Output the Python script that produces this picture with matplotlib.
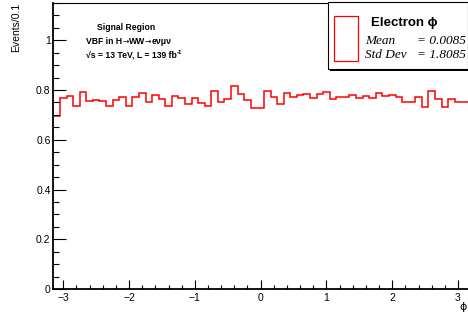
import numpy as np
import matplotlib
matplotlib.use("Agg")
import matplotlib.pyplot as plt
from matplotlib.patches import Rectangle
from matplotlib.ticker import MultipleLocator

# electron phi, 63 bins of 0.1 from -3.15 to 3.15
bin_edges = np.linspace(-3.15, 3.15, 64)
events = [0.695, 0.766, 0.777, 0.734, 0.793, 0.754, 0.758, 0.757, 0.737, 0.761,
          0.774, 0.737, 0.771, 0.788, 0.753, 0.780, 0.763, 0.737, 0.777, 0.766,
          0.745, 0.766, 0.747, 0.737, 0.798, 0.750, 0.763, 0.817, 0.785, 0.758,
          0.726, 0.726, 0.796, 0.771, 0.742, 0.788, 0.774, 0.780, 0.785, 0.768,
          0.785, 0.793, 0.763, 0.774, 0.772, 0.782, 0.769, 0.777, 0.766, 0.788,
          0.777, 0.782, 0.774, 0.750, 0.753, 0.774, 0.733, 0.796, 0.762, 0.730,
          0.763, 0.750, 0.750]

stat_names = ["Mean", "Std Dev"]
stat_values = ["= 0.0085", "= 1.8085"]

W, H = 468, 322
sans = ["Liberation Sans", "DejaVu Sans"]
serif = ["Liberation Serif", "DejaVu Serif"]
plt.rcParams["font.family"] = sans

fig = plt.figure(figsize=(W / 100, H / 100), dpi=100)
ax = fig.add_axes([53.4 / W, 33 / H, 414.5 / W, 286 / H])

ax.stairs(events, bin_edges, color="red", lw=1.1, baseline=None)

ax.set_xlim(-3.15, 3.15)
ax.set_ylim(0, 1.15)
ax.xaxis.set_major_locator(MultipleLocator(1))
ax.xaxis.set_minor_locator(MultipleLocator(0.2))
ax.yaxis.set_major_locator(MultipleLocator(0.2))
ax.yaxis.set_minor_locator(MultipleLocator(0.05))
ax.yaxis.set_major_formatter(plt.FuncFormatter(lambda v, p: "0" if v == 0 else f"{v:g}"))
ax.tick_params(axis="both", which="both", direction="in", labelsize=7.5, width=0.8)
ax.tick_params(axis="y", which="major", length=9)
ax.tick_params(axis="y", which="minor", length=4.5)
ax.tick_params(axis="x", which="major", length=6.5, pad=3)
ax.tick_params(axis="x", which="minor", length=3.2)
ax.tick_params(axis="y", pad=2)
for s in ["left", "bottom"]:
    ax.spines[s].set_linewidth(1.3)
ax.spines["top"].set_linewidth(0.8)
ax.spines["right"].set_visible(False)

def px(x, y):
    return x / W, 1 - y / H

fig.text(*px(16, 3), "Events/0.1", rotation=90, ha="center", va="top", fontsize=7.5)
fig.text(*px(463, 307), "ϕ", ha="center", va="center", fontsize=8, family=["DejaVu Sans"])

fig.text(*px(126, 27), "Signal Region", ha="center", va="center", fontsize=6.2, weight="bold")

# process line, arrows drawn in DejaVu so they read as arrows
parts = ["VBF in H", "→", "WW", "→", "eνμν"]
prev = fig.text(*px(86, 41.5), parts[0], ha="left", va="center", fontsize=6.2, weight="bold")
for p in parts[1:]:
    arrow = p == "→"
    prev = ax.annotate(p, xy=(1, 0.5), xycoords=prev, ha="left", va="center",
                       fontsize=5.5 if arrow else 6.2,
                       weight="normal" if arrow else "bold",
                       family=["DejaVu Sans"] if arrow else sans)

t = fig.text(*px(86, 55), "√s = 13 TeV, L = 139 fb", ha="left", va="center", fontsize=6.2, weight="bold")
ax.annotate("-1", xy=(1, 0.55), xycoords=t, ha="left", va="bottom", fontsize=4.3, weight="bold")

# stats box with shadow
fig.patches.append(Rectangle(px(330, 71), 140 / W, 67 / H, transform=fig.transFigure,
                             facecolor="black", edgecolor="none", zorder=5))
fig.patches.append(Rectangle(px(328, 69), 140 / W, 67 / H, transform=fig.transFigure,
                             facecolor="white", edgecolor="black", lw=0.8, zorder=6))
fig.patches.append(Rectangle(px(333.5, 60.5), 24.5 / W, 44.5 / H, transform=fig.transFigure,
                             facecolor="white", edgecolor="red", lw=0.9, zorder=7))
fig.text(*px(404, 23), "Electron ϕ", ha="center", va="center", fontsize=9.5,
         weight="bold", zorder=8)
for i, (name, val) in enumerate(zip(stat_names, stat_values)):
    y = 41.5 + i * 14
    fig.text(*px(365, y), name, ha="left", va="center", fontsize=9.5,
             family=serif, style="italic", zorder=8)
    fig.text(*px(466, y), val, ha="right", va="center", fontsize=9.5,
             family=serif, style="italic", zorder=8)

fig.savefig("out.png", dpi=100)
